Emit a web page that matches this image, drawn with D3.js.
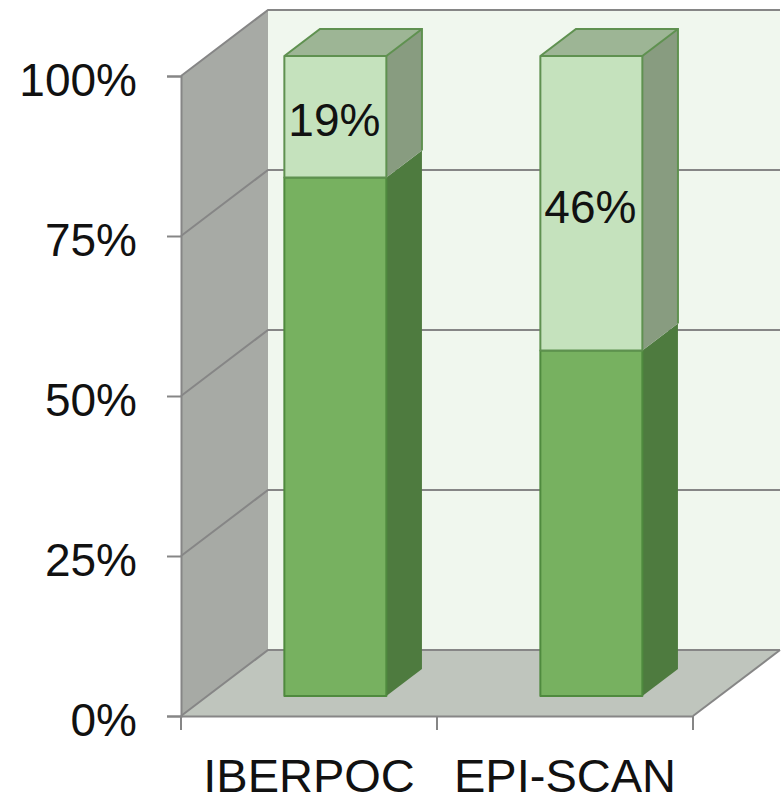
<!DOCTYPE html>
<meta charset="utf-8">
<style>
body { margin: 0; background: #fff; }
text { font-family: "Liberation Sans", Arial, sans-serif; fill: #111; }
.axis text { font-size: 46px; }
.axis.bottom text { font-size: 47px; }
.axis path, .axis line { stroke: #868686; stroke-width: 2px; }
</style>
<body>
  <div class="chart"></div>
</body>
<script src="https://d3js.org/d3.v7.min.js"></script>
<script>

var categories = ["IBERPOC", "EPI-SCAN"];
var lowerValues = [81, 54];
var upperValues = [19, 46];
var yTicks = [0, 25, 50, 75, 100];

var width = 783, height = 798;

var x = d3.scaleBand().domain(categories).range([181, 693]);
var y = d3.scaleLinear().domain([0, 100]).range([716, 76]);

// depth of the 3d box: 0 is the front edge, 1 the back wall
var depthX = d3.scaleLinear().domain([0, 1]).range([0, 87]);
var depthY = d3.scaleLinear().domain([0, 1]).range([0, -66]);
var barFront = 0.303, barBack = 0.712;
var barWidth = 102;

var svg = d3.select(".chart")
        .append("svg")
        .attr("width", width)
        .attr("height", height);

// px, val, depth -> screen point
function pt(px, v, z) {
    return [px + depthX(z), y(v) + depthY(z)];
}

function face(points, fill, stroke) {
    svg.append("polygon")
        .attr("points", points.map(function(p) { return p.join(","); }).join(" "))
        .style("fill", fill)
        .style("stroke", stroke || "none")
        .style("stroke-width", stroke ? 2 : 0)
        .style("stroke-linejoin", "round");
}

var x0 = x.range()[0], x1 = x.range()[1];

// walls and floor
face([pt(x0, 0, 1), pt(x1, 0, 1), pt(x1, 100, 1), pt(x0, 100, 1)], "#f0f7ee");
face([pt(x0, 0, 0), pt(x0, 0, 1), pt(x0, 100, 1), pt(x0, 100, 0)], "#a7aaa5");
face([pt(x0, 0, 0), pt(x1, 0, 0), pt(x1, 0, 1), pt(x0, 0, 1)], "#bfc5bd");

// gridlines run up the side wall and along the back
svg.selectAll(".grid")
    .data(yTicks)
    .enter()
    .append("polyline")
    .attr("class", "grid")
    .attr("points", function(d) {
        return [pt(x0, d, 0), pt(x0, d, 1), pt(x1, d, 1)].map(function(p) { return p.join(","); }).join(" ");
    })
    .style("fill", "none")
    .style("stroke", "#868686")
    .style("stroke-width", 2);

// floor right edge
svg.append("line")
    .attr("x1", pt(x1, 0, 0)[0]).attr("y1", pt(x1, 0, 0)[1])
    .attr("x2", pt(x1, 0, 1)[0]).attr("y2", pt(x1, 0, 1)[1])
    .style("stroke", "#868686")
    .style("stroke-width", 2);

// axes
var yAxis = svg.append("g")
    .attr("class", "axis")
    .attr("transform", "translate(" + x0 + ",0)")
    .call(d3.axisLeft(y).tickValues(yTicks).tickSize(14).tickPadding(30)
        .tickFormat(function(d) { return d + "%"; }));

yAxis.selectAll("text").attr("dy", "0.43em");

var xAxis = svg.append("g")
    .attr("class", "axis bottom")
    .attr("transform", "translate(0," + y(0) + ")")
    .call(d3.axisBottom(x).tickSize(0).tickPadding(43));

xAxis.selectAll(".tick line").remove();
xAxis.selectAll(".edge")
    .data(x.domain().concat(["end"]))
    .enter()
    .append("line")
    .attr("x1", function(d) { return d === "end" ? x1 : x(d); })
    .attr("x2", function(d) { return d === "end" ? x1 : x(d); })
    .attr("y1", 0)
    .attr("y2", 14);

// bars
categories.forEach(function(name, i) {
    var left = x(name) + x.bandwidth() / 2 - barWidth / 2;
    var right = left + barWidth;
    var low = lowerValues[i];
    var top = low + upperValues[i];

    // side faces
    face([pt(right, 0, barFront), pt(right, 0, barBack), pt(right, low, barBack), pt(right, low, barFront)], "#4e7b3f");
    face([pt(right, low, barFront), pt(right, low, barBack), pt(right, top, barBack), pt(right, top, barFront)], "#889c80");
    // top
    face([pt(left, top, barFront), pt(right, top, barFront), pt(right, top, barBack), pt(left, top, barBack)], "#9db595");

    svg.append("polyline")
        .attr("points", [pt(right, low, barBack), pt(right, top, barBack), pt(left, top, barBack), pt(left, top, barFront)]
            .map(function(p) { return p.join(","); }).join(" "))
        .style("fill", "none")
        .style("stroke", "#5f9150")
        .style("stroke-width", 2);
    svg.append("line")
        .attr("x1", pt(right, top, barFront)[0]).attr("y1", pt(right, top, barFront)[1])
        .attr("x2", pt(right, top, barBack)[0]).attr("y2", pt(right, top, barBack)[1])
        .style("stroke", "#5f9150")
        .style("stroke-width", 2);

    // front faces
    face([pt(left, 0, barFront), pt(right, 0, barFront), pt(right, low, barFront), pt(left, low, barFront)], "#77b160", "#4f8a3e");
    face([pt(left, low, barFront), pt(right, low, barFront), pt(right, top, barFront), pt(left, top, barFront)], "#c5e2bd", "#5f9150");

    svg.append("text")
        .attr("x", (left + right) / 2 + depthX(barFront) - 1)
        .attr("y", y(low + upperValues[i] / 2) + depthY(barFront))
        .attr("dy", ".42em")
        .style("text-anchor", "middle")
        .style("font-size", "46px")
        .text(upperValues[i] + "%");
});

</script>
